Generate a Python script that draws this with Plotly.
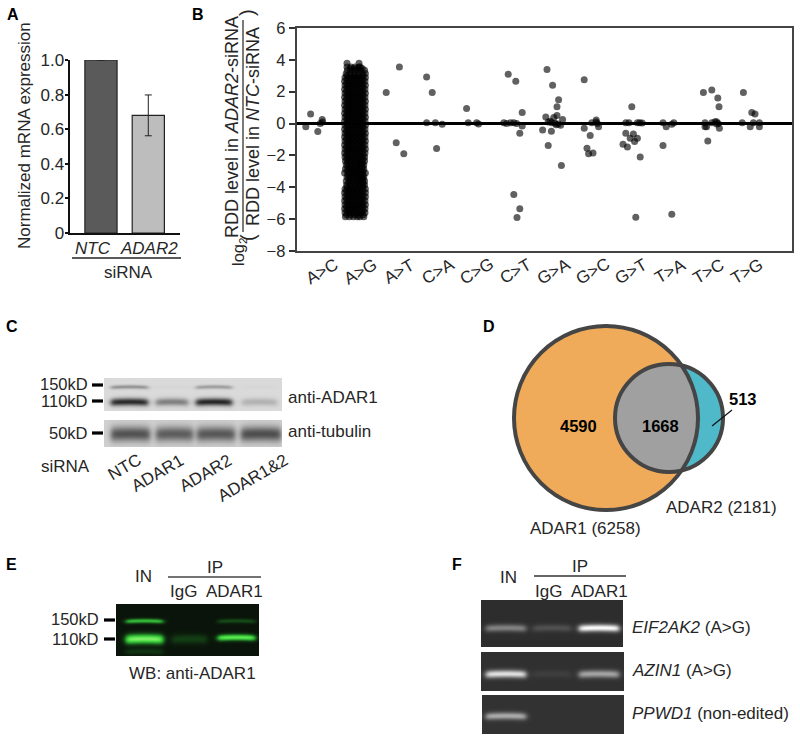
import numpy as np
import plotly.graph_objects as go

W, H = 800, 741
FONT = "Liberation Sans"
INK = "#262626"

# ---------- Panel A data ----------
A_CATEGORIES = ["NTC", "ADAR2"]
A_VALUES = [1.0, 0.68]
A_ERRORS = [0, 0.118]
A_COLORS = ["#5a5a5a", "#bdbdbd"]
A_TICKS = [0, 0.2, 0.4, 0.6, 0.8, 1.0]
A_TICKTEXT = ["0", "0.2", "0.4", "0.6", "0.8", "1.0"]

# ---------- Panel B data: (jitter offset, log2 ratio) per substitution ----------
B_CATEGORIES = ["A>C", "A>G", "A>T", "C>A", "C>G", "C>T", "G>A", "G>C", "G>T", "T>A", "T>C", "T>G"]
B_TICKS = [-8, -6, -4, -2, 0, 2, 4, 6]
AC_OFF = [-.23, -.11, .07, .18, .19, .13]
AC_VAL = [-.2, .6, -.5, .25, .1, 0]
AG_ROWS = [
    (3.78, [-.2, .1]),
    (3.55, [-.2, -.1, .0, .1, .13]),
    (3.35, [-.19, -.08, .03, .14, .24]),
    (3.15, [-.22, -.12, -.02, .08, .18, .26]),
    (2.9, [-.25, -.15, -.05, .05, .15, .26]),
    (2.65, [-.26, -.16, -.06, .04, .14, .25]),
    (2.4, [-.25, -.15, -.05, .05, .15, .26]),
    (2.15, [-.26, -.16, -.06, .04, .14, .25]),
    (1.9, [-.25, -.15, -.05, .05, .15, .26]),
    (1.65, [-.26, -.16, -.06, .04, .14, .25]),
    (1.4, [-.25, -.15, -.05, .05, .15, .26]),
    (1.15, [-.26, -.16, -.06, .04, .14, .25]),
    (.9, [-.25, -.15, -.05, .05, .15, .26]),
    (.65, [-.26, -.16, -.06, .04, .14, .25]),
    (.4, [-.25, -.15, -.05, .05, .15, .26]),
    (.15, [-.26, -.16, -.06, .04, .14, .25]),
    (-.1, [-.25, -.15, -.05, .05, .15, .26]),
    (-.35, [-.26, -.16, -.06, .04, .14, .25]),
    (-.6, [-.25, -.15, -.05, .05, .15, .26]),
    (-.85, [-.26, -.16, -.06, .04, .14, .25]),
    (-1.1, [-.25, -.15, -.05, .05, .15, .26]),
    (-1.35, [-.26, -.16, -.06, .04, .14, .25]),
    (-1.6, [-.25, -.15, -.05, .05, .15, .26]),
    (-1.85, [-.26, -.16, -.06, .04, .14, .25]),
    (-2.1, [-.25, -.15, -.05, .05, .15, .24]),
    (-2.35, [-.24, -.14, -.04, .06, .16, .24]),
    (-2.6, [-.22, -.12, -.02, .08, .16, .22]),
    (-2.85, [-.24, -.14, -.04, .06, .15, .22]),
    (-3.1, [-.26, -.14, -.04, .06, .16, .26]),
    (-3.35, [-.2, -.12, -.02, .08, .16, .22]),
    (-3.6, [-.22, -.12, -.02, .08, .18, .24]),
    (-3.85, [-.21, -.11, -.01, .09, .19, .24]),
    (-4.1, [-.25, -.15, -.05, .05, .15, .26]),
    (-4.35, [-.26, -.16, -.06, .04, .14, .26]),
    (-4.6, [-.25, -.15, -.05, .05, .15, .26]),
    (-4.85, [-.26, -.16, -.06, .04, .14, .25]),
    (-5.1, [-.25, -.15, -.05, .05, .15, .26]),
    (-5.35, [-.26, -.16, -.06, .04, .14, .25]),
    (-5.6, [-.25, -.15, -.05, .05, .15, .25]),
    (-5.85, [-.24, -.14, -.04, .06, .12, .22]),
    # denser core of the cloud, between the rows above
    (3.45, [-.12, -.02, .08, .18]),
    (3.02, [-.2, -.1, 0, .1, .2]),
    (2.78, [-.2, -.1, 0, .1, .2]),
    (2.52, [-.21, -.11, -.01, .09, .2]),
    (2.28, [-.2, -.1, 0, .1, .2]),
    (2.02, [-.21, -.11, -.01, .09, .2]),
    (1.78, [-.2, -.1, 0, .1, .2]),
    (1.52, [-.21, -.11, -.01, .09, .2]),
    (1.28, [-.2, -.1, 0, .1, .2]),
    (1.02, [-.21, -.11, -.01, .09, .2]),
    (.78, [-.2, -.1, 0, .1, .2]),
    (.52, [-.21, -.11, -.01, .09, .2]),
    (.28, [-.2, -.1, 0, .1, .2]),
    (.02, [-.21, -.11, -.01, .09, .2]),
    (-.22, [-.2, -.1, 0, .1, .2]),
    (-.48, [-.21, -.11, -.01, .09, .2]),
    (-.72, [-.2, -.1, 0, .1, .2]),
    (-.98, [-.21, -.11, -.01, .09, .2]),
    (-1.22, [-.2, -.1, 0, .1, .2]),
    (-1.48, [-.21, -.11, -.01, .09, .2]),
    (-1.72, [-.2, -.1, 0, .1, .2]),
    (-1.98, [-.21, -.11, -.01, .09, .2]),
    (-2.22, [-.2, -.1, 0, .1, .2]),
    (-2.48, [-.19, -.09, .01, .11, .19]),
    (-2.72, [-.18, -.08, .02, .12, .18]),
    (-2.98, [-.19, -.09, .01, .11, .2]),
    (-3.22, [-.18, -.08, .02, .12, .2]),
    (-3.48, [-.16, -.06, .04, .14, .2]),
    (-3.72, [-.16, -.06, .04, .14, .2]),
    (-3.98, [-.2, -.1, 0, .1, .2]),
    (-4.22, [-.21, -.11, -.01, .09, .2]),
    (-4.48, [-.2, -.1, 0, .1, .2]),
    (-4.72, [-.21, -.11, -.01, .09, .2]),
    (-4.98, [-.2, -.1, 0, .1, .2]),
    (-5.22, [-.21, -.11, -.01, .09, .2]),
    (-5.48, [-.2, -.1, 0, .1, .2]),
    (-5.72, [-.21, -.11, -.01, .09, .2]),
]
AT_OFF = [-.22, .11, .03, .22]
AT_VAL = [1.95, 3.55, -1.2, -1.9]
CA_OFF = [-.21, -.07, -.21, .01, .18, .04]
CA_VAL = [2.93, 1.95, .05, .05, -.05, -1.57]
CG_OFF = [-.21, -.17, .04, .09]
CG_VAL = [.95, .05, .05, -.03]
CT_OFF = [-.17, .02, .18, -.28, -.21, -.11, -.03, .04, .18, .12, -.03, .12, .05]
CT_VAL = [3.1, 2.65, .7, .05, 0, .05, .05, 0, -.15, -.6, -4.45, -5.35, -5.9]
GA_OFF = [-.2, -.06, .09, .05, .05, -.23, -.03, .19, -.31, -.09, -.17, .16, -.17, -.08, 0, .08, .14, .03, -.12]
GA_VAL = [3.4, 2.4, 1.5, 1.05, .5, .42, .38, .25, -.4, -.48, -1.38, -2.63, .1, .05, .02, -.02, -.1, -.08, .15]
GC_OFF = [-.27, -.27, -.12, -.2, -.16, -.05, -.08, .03, .03, .09, .06]
GC_VAL = [2.75, -.3, -.75, -1.55, -1.9, -1.85, .05, .22, .1, -.2, 0]
GT_OFF = [-.08, -.23, -.15, .06, .12, .18, -.23, -.04, -.12, .06, -.01, -.3, -.19, .13, .02]
GT_VAL = [1.05, .05, .05, .05, .05, .03, -.6, -.65, -.92, -.92, -1.13, -1.3, -1.47, -2.1, -5.88]
TA_OFF = [-.3, -.03, -.08, -.22, -.3, -.08]
TA_VAL = [.05, .05, -.04, -.2, -1.38, -5.7]
TC_OFF = [-.29, -.08, .07, .1, -.25, -.21, -.25, -.08, 0, .04, .08, .11, .04, -.18]
TC_VAL = [1.95, 2.1, 1.6, 1.05, .05, -.2, -.2, .05, .12, .12, 0, -.3, -.02, -1.1]
TG_OFF = [-.29, -.08, 0, -.32, -.04, .11, -.12, .11]
TG_VAL = [1.95, .7, .6, .05, .05, .05, -.2, -.2]

AG_OFF = [o for _, row in AG_ROWS for o in row]
AG_VAL = [y for y, row in AG_ROWS for _ in row]
B_OFFSETS = [AC_OFF, AG_OFF, AT_OFF, CA_OFF, CG_OFF, CT_OFF, GA_OFF, GC_OFF, GT_OFF, TA_OFF, TC_OFF, TG_OFF]
B_VALUES = [AC_VAL, AG_VAL, AT_VAL, CA_VAL, CG_VAL, CT_VAL, GA_VAL, GC_VAL, GT_VAL, TA_VAL, TC_VAL, TG_VAL]

# ---------- Blot band strengths (one value per lane) ----------
C_LANES = ["NTC", "ADAR1", "ADAR2", "ADAR1&2"]
C_150 = [-70, -4, -60, -4]
C_110 = [-175, -90, -180, -40]
C_TUB = [-125, -115, -120, -130]
E_LANES = ["IN", "IP: IgG", "IP: ADAR1"]
E_150 = [.62, 0, .2]
E_110 = [.98, .16, 0]
E_110_IP = [0, 0, .88]
F_EIF2AK2 = [85, 35, 205]
F_AZIN1 = [175, 14, 115]
F_PPWD1 = [120, 0, 0]
F_GENES = ["EIF2AK2", "AZIN1", "PPWD1"]
VENN_COUNTS = [4590, 1668, 513]
VENN_TOTALS = [6258, 2181]


def px_dom_x(a, b):
    return [a / W, b / W]


def px_dom_y(top, bottom):
    return [1 - bottom / H, 1 - top / H]


fig = go.Figure()


def blot(x0, x1, y0, y1, bg, bands, colorscale, zmin, zmax):
    """Render gel bands on a 1 px grid. bands: (lane spans, strengths, y centre, half thickness)."""
    xs = np.arange(x0, x1) + .5
    ys = np.arange(y0, y1) + .5
    z = np.full((len(ys), len(xs)), float(bg))
    for spans, strengths, yc, th in bands:
        for (a, b), s in zip(spans, strengths):
            fx = 1 / (1 + np.exp(-(xs - a) / 1.6)) * 1 / (1 + np.exp((xs - b) / 1.6))
            smile = yc - 1.0 * (1 - ((xs - (a + b) / 2) / ((b - a) / 2)) ** 2).clip(0) * .6
            for i, y in enumerate(ys):
                z[i] += s * fx * np.exp(-((y - smile) / th) ** 2)
    fig.add_trace(go.Heatmap(x=xs, y=ys, z=z, xaxis="x3", yaxis="y3", colorscale=colorscale,
                             zmin=zmin, zmax=zmax, showscale=False, hoverinfo="skip", zsmooth="best"))


GRAY = [[0, "rgb(0,0,0)"], [1, "rgb(255,255,255)"]]
GREEN = [[0, "#0a140a"], [.15, "#123c14"], [.5, "#2aa02e"], [.8, "#48dc44"], [1, "#86f06c"]]

# Panel A
fig.add_trace(go.Bar(x=[0, 1], y=A_VALUES, width=.68, marker=dict(color=A_COLORS, line=dict(color="#222", width=1.2)),
                     error_y=dict(type="data", array=A_ERRORS, color="#222", thickness=1, width=3.5),
                     xaxis="x", yaxis="y", showlegend=False, hoverinfo="skip"))

# Panel B
for off, val, i in zip(B_OFFSETS, B_VALUES, range(len(B_CATEGORIES))):
    fig.add_trace(go.Scatter(x=[i + o for o in off], y=val, mode="markers", xaxis="x2", yaxis="y2",
                             marker=dict(color="rgba(0,0,0,0.62)", size=7, line=dict(width=0)),
                             showlegend=False, name=B_CATEGORIES[i], hoverinfo="skip"))

# Panel C blots
C_SPANS = [(110, 147), (155, 187), (195, 231), (241, 276)]
C_SPANS_T = [(110, 149), (155, 192), (196, 234), (240, 280)]
blot(104, 282, 378, 411, 218, [(C_SPANS, C_150, 386.5, 2.0), (C_SPANS, C_110, 401.5, 3.8)], GRAY, 0, 255)
blot(104, 282, 420, 447, 208, [(C_SPANS_T, C_TUB, 433.5, 7.5)], GRAY, 0, 255)

# Panel E blot
E_SPANS = [(125, 162), (171, 206), (217, 254)]
blot(116, 259, 604, 656, 0, [(E_SPANS, E_150, 620.5, 2.2), (E_SPANS, E_110, 638.5, 4.6),
                             (E_SPANS, E_110_IP, 637, 3.0),
                             ([(125, 162)], [.12], 651, 3)], GREEN, 0, 1)

# Panel F blots
F_SPANS = [(485, 525), (532, 570), (578, 618)]
blot(481, 623, 600, 647, 45, [(F_SPANS, F_EIF2AK2, 627.5, 3.6)], GRAY, 0, 255)
blot(481, 624, 652, 691, 48, [(F_SPANS, F_AZIN1, 673.5, 3.8)], GRAY, 0, 255)
blot(482, 624, 695, 734, 50, [(F_SPANS, F_PPWD1, 715.5, 3.6)], GRAY, 0, 255)

shapes = []


def rect_line(x0, y0, x1, y1, color=INK, width=1.2):
    shapes.append(dict(type="line", xref="x3", yref="y3", x0=x0, y0=y0, x1=x1, y1=y1,
                       line=dict(color=color, width=width), layer="above"))


# zero line of panel B
shapes.append(dict(type="line", xref="x2", yref="y2", x0=-.4625, x1=11.925, y0=0, y1=0,
                   line=dict(color="black", width=3), layer="above"))
# panel A bracket
rect_line(72, 258, 181, 258, "#222", 1.4)
# fraction bar panel B
rect_line(243, 20, 243, 232, "#222", 1.2)
# marker bars C, E
for y in (385, 401, 433):
    rect_line(92, y, 103, y, "black", 3.2)
for y in (620, 639):
    rect_line(104, y, 115, y, "black", 3.2)
rect_line(168, 577, 261, 577, "#444", 1.4)
rect_line(534, 576, 626, 576, "#333", 1.4)

# Venn
CX1, CY1, R1 = 606, 418, 92
CX2, CY2, R2 = 669, 418, 54
VENN_LINE = "#454545"
shapes.append(dict(type="circle", xref="x3", yref="y3", x0=CX2 - R2, x1=CX2 + R2, y0=CY2 - R2, y1=CY2 + R2,
                   fillcolor="#4fb9c9", line=dict(width=0), layer="above"))
shapes.append(dict(type="circle", xref="x3", yref="y3", x0=CX1 - R1, x1=CX1 + R1, y0=CY1 - R1, y1=CY1 + R1,
                   fillcolor="#efab5a", line=dict(width=0), layer="above"))
d = CX2 - CX1
a = (d ** 2 + R1 ** 2 - R2 ** 2) / (2 * d)
hh = np.sqrt(R1 ** 2 - a ** 2)
t1 = np.linspace(-np.arctan2(hh, a), np.arctan2(hh, a), 40)
t2 = np.linspace(np.pi - np.arctan2(hh, d - a), np.pi + np.arctan2(hh, d - a), 40)
pts = [(CX1 + R1 * np.cos(t), CY1 + R1 * np.sin(t)) for t in t1] + \
      [(CX2 + R2 * np.cos(t), CY2 + R2 * np.sin(t)) for t in t2]
path = "M" + " L".join(f"{x:.2f},{y:.2f}" for x, y in pts) + " Z"
shapes.append(dict(type="path", xref="x3", yref="y3", path=path, fillcolor="#a0a0a0", line=dict(width=0), layer="above"))
for cx, cy, r in ((CX1, CY1, R1), (CX2, CY2, R2)):
    shapes.append(dict(type="circle", xref="x3", yref="y3", x0=cx - r, x1=cx + r, y0=cy - r, y1=cy + r,
                       line=dict(color=VENN_LINE, width=4), layer="above"))
rect_line(712, 426, 732, 410, "#111", 1.2)

annots = []


def txt(s, x, y, size=17, anchor="center", angle=0, color=INK, xref="x3"):
    annots.append(dict(text=s, x=x, y=y, xref=xref, yref="y3", showarrow=False, xanchor=anchor, yanchor="middle",
                       textangle=angle, font=dict(family=FONT, size=size, color=color)))


# panel letters
for s, x, y in (("A", 13, 14), ("B", 198, 14), ("C", 12, 326), ("D", 489, 326), ("E", 11, 564), ("F", 457, 564)):
    txt(f"<b>{s}</b>", x, y, 16, color="black")

# A
txt("Normalized mRNA expression", 24, 136, 17, angle=-90)
txt("siRNA", 128, 272)
txt(f"<i>{A_CATEGORIES[0]}</i>", 93, 248)
txt(f"<i>{A_CATEGORIES[1]}</i>", 149, 248)

# B
txt("RDD level in <i>ADAR2</i>-siRNA", 232, 127, 18, angle=-90)
txt("RDD level in <i>NTC</i>-siRNA", 253, 127, 18, angle=-90)
txt("log<sub>2</sub>", 239, 252, 16.5, angle=-90)
txt("(", 248, 238, 20, angle=-90)
txt(")", 247, 13, 20, angle=-90)
for i, c in enumerate(B_CATEGORIES):
    txt(c, .175 + i * .966, 271, 17, angle=-30, xref="x2")

# C
for s, y in (("150kD", 384), ("110kD", 401), ("50kD", 433)):
    txt(s, 90, y, 16.5, "right")
txt("anti-ADAR1", 286, 397, 17, "left")
txt("anti-tubulin", 286, 431, 17, "left")
txt("siRNA", 65, 466)
for s, x, y in zip(C_LANES, (124, 157, 205, 252), (467, 473, 473, 478)):
    txt(s, x, y, 17, angle=-30)

# D
txt(f"<b>{VENN_COUNTS[0]}</b>", 578, 426, 16.5, color="black")
txt(f"<b>{VENN_COUNTS[1]}</b>", 660, 426, 16.5, color="black")
txt(f"<b>{VENN_COUNTS[2]}</b>", 743, 399, 16.5, color="black")
txt(f"ADAR2 ({VENN_TOTALS[1]})", 721, 507)
txt(f"ADAR1 ({VENN_TOTALS[0]})", 585, 528)

# E
txt("IN", 143, 576)
txt("IP", 215, 567)
txt("IgG", 183, 591)
txt("ADAR1", 234, 591)
txt("150kD", 101, 619, 16.5, "right")
txt("110kD", 101, 639, 16.5, "right")
txt("WB: anti-ADAR1", 192, 673)

# F
txt("IN", 508, 577)
txt("IP", 580, 566)
txt("IgG", 548, 591)
txt("ADAR1", 599, 591)
txt(f"<i>{F_GENES[0]}</i> (A>G)", 630, 627, 17, "left")
txt(f"<i>{F_GENES[1]}</i> (A>G)", 630, 670, 17, "left")
txt(f"<i>{F_GENES[2]}</i> (non-edited)", 630, 713, 17, "left")

fig.update_layout(
    template="none",
    width=W, height=H, margin=dict(l=0, r=0, t=0, b=0, autoexpand=False), paper_bgcolor="white", plot_bgcolor="rgba(0,0,0,0)",
    font=dict(family=FONT, color=INK), showlegend=False, shapes=shapes, annotations=annots,
    xaxis=dict(domain=px_dom_x(69.5, 180), range=[-.665, 1.67], showticklabels=False,
               showline=True, linecolor="#111", linewidth=2, ticks="",
               showgrid=False, zeroline=False, anchor="y", automargin=False),
    yaxis=dict(domain=px_dom_y(60, 233), range=[0, 1], tickvals=A_TICKS, ticktext=A_TICKTEXT,
               showline=True, linecolor="#111", linewidth=2, ticks="outside", ticklen=3, tickwidth=1.5, tickcolor="#111",
               ticklabelstandoff=-3, tickfont=dict(size=17, color=INK), showgrid=False, zeroline=False, anchor="x",
               automargin=False),
    xaxis2=dict(domain=px_dom_x(296.5, 792), range=[-.4625, 11.925], showticklabels=False, ticks="",
                showline=True, mirror=True, linecolor="#444", linewidth=1.6, showgrid=False, zeroline=False, anchor="y2",
                automargin=False),
    yaxis2=dict(domain=px_dom_y(28, 251), range=[-8, 6], tickvals=B_TICKS,
                showline=True, mirror=True, linecolor="#444", linewidth=1.6, ticks="outside", ticklen=6, tickwidth=1.5,
                tickcolor="#333", tickfont=dict(size=16.5, color=INK), showgrid=False, zeroline=False, anchor="x2",
                automargin=False),
    xaxis3=dict(domain=[0, 1], range=[0, W], visible=False, anchor="y3", fixedrange=True, automargin=False),
    yaxis3=dict(domain=[0, 1], range=[H, 0], visible=False, anchor="x3", fixedrange=True, automargin=False),
)

PIN_TO_WINDOW = (
    "document.body.style.margin='0';"
    "var d=document.getElementById('{plot_id}');"
    "d.style.position='fixed';d.style.top='0';d.style.left='0';"
)
fig.write_html("out.html", config=dict(displayModeBar=False), post_script=PIN_TO_WINDOW)
